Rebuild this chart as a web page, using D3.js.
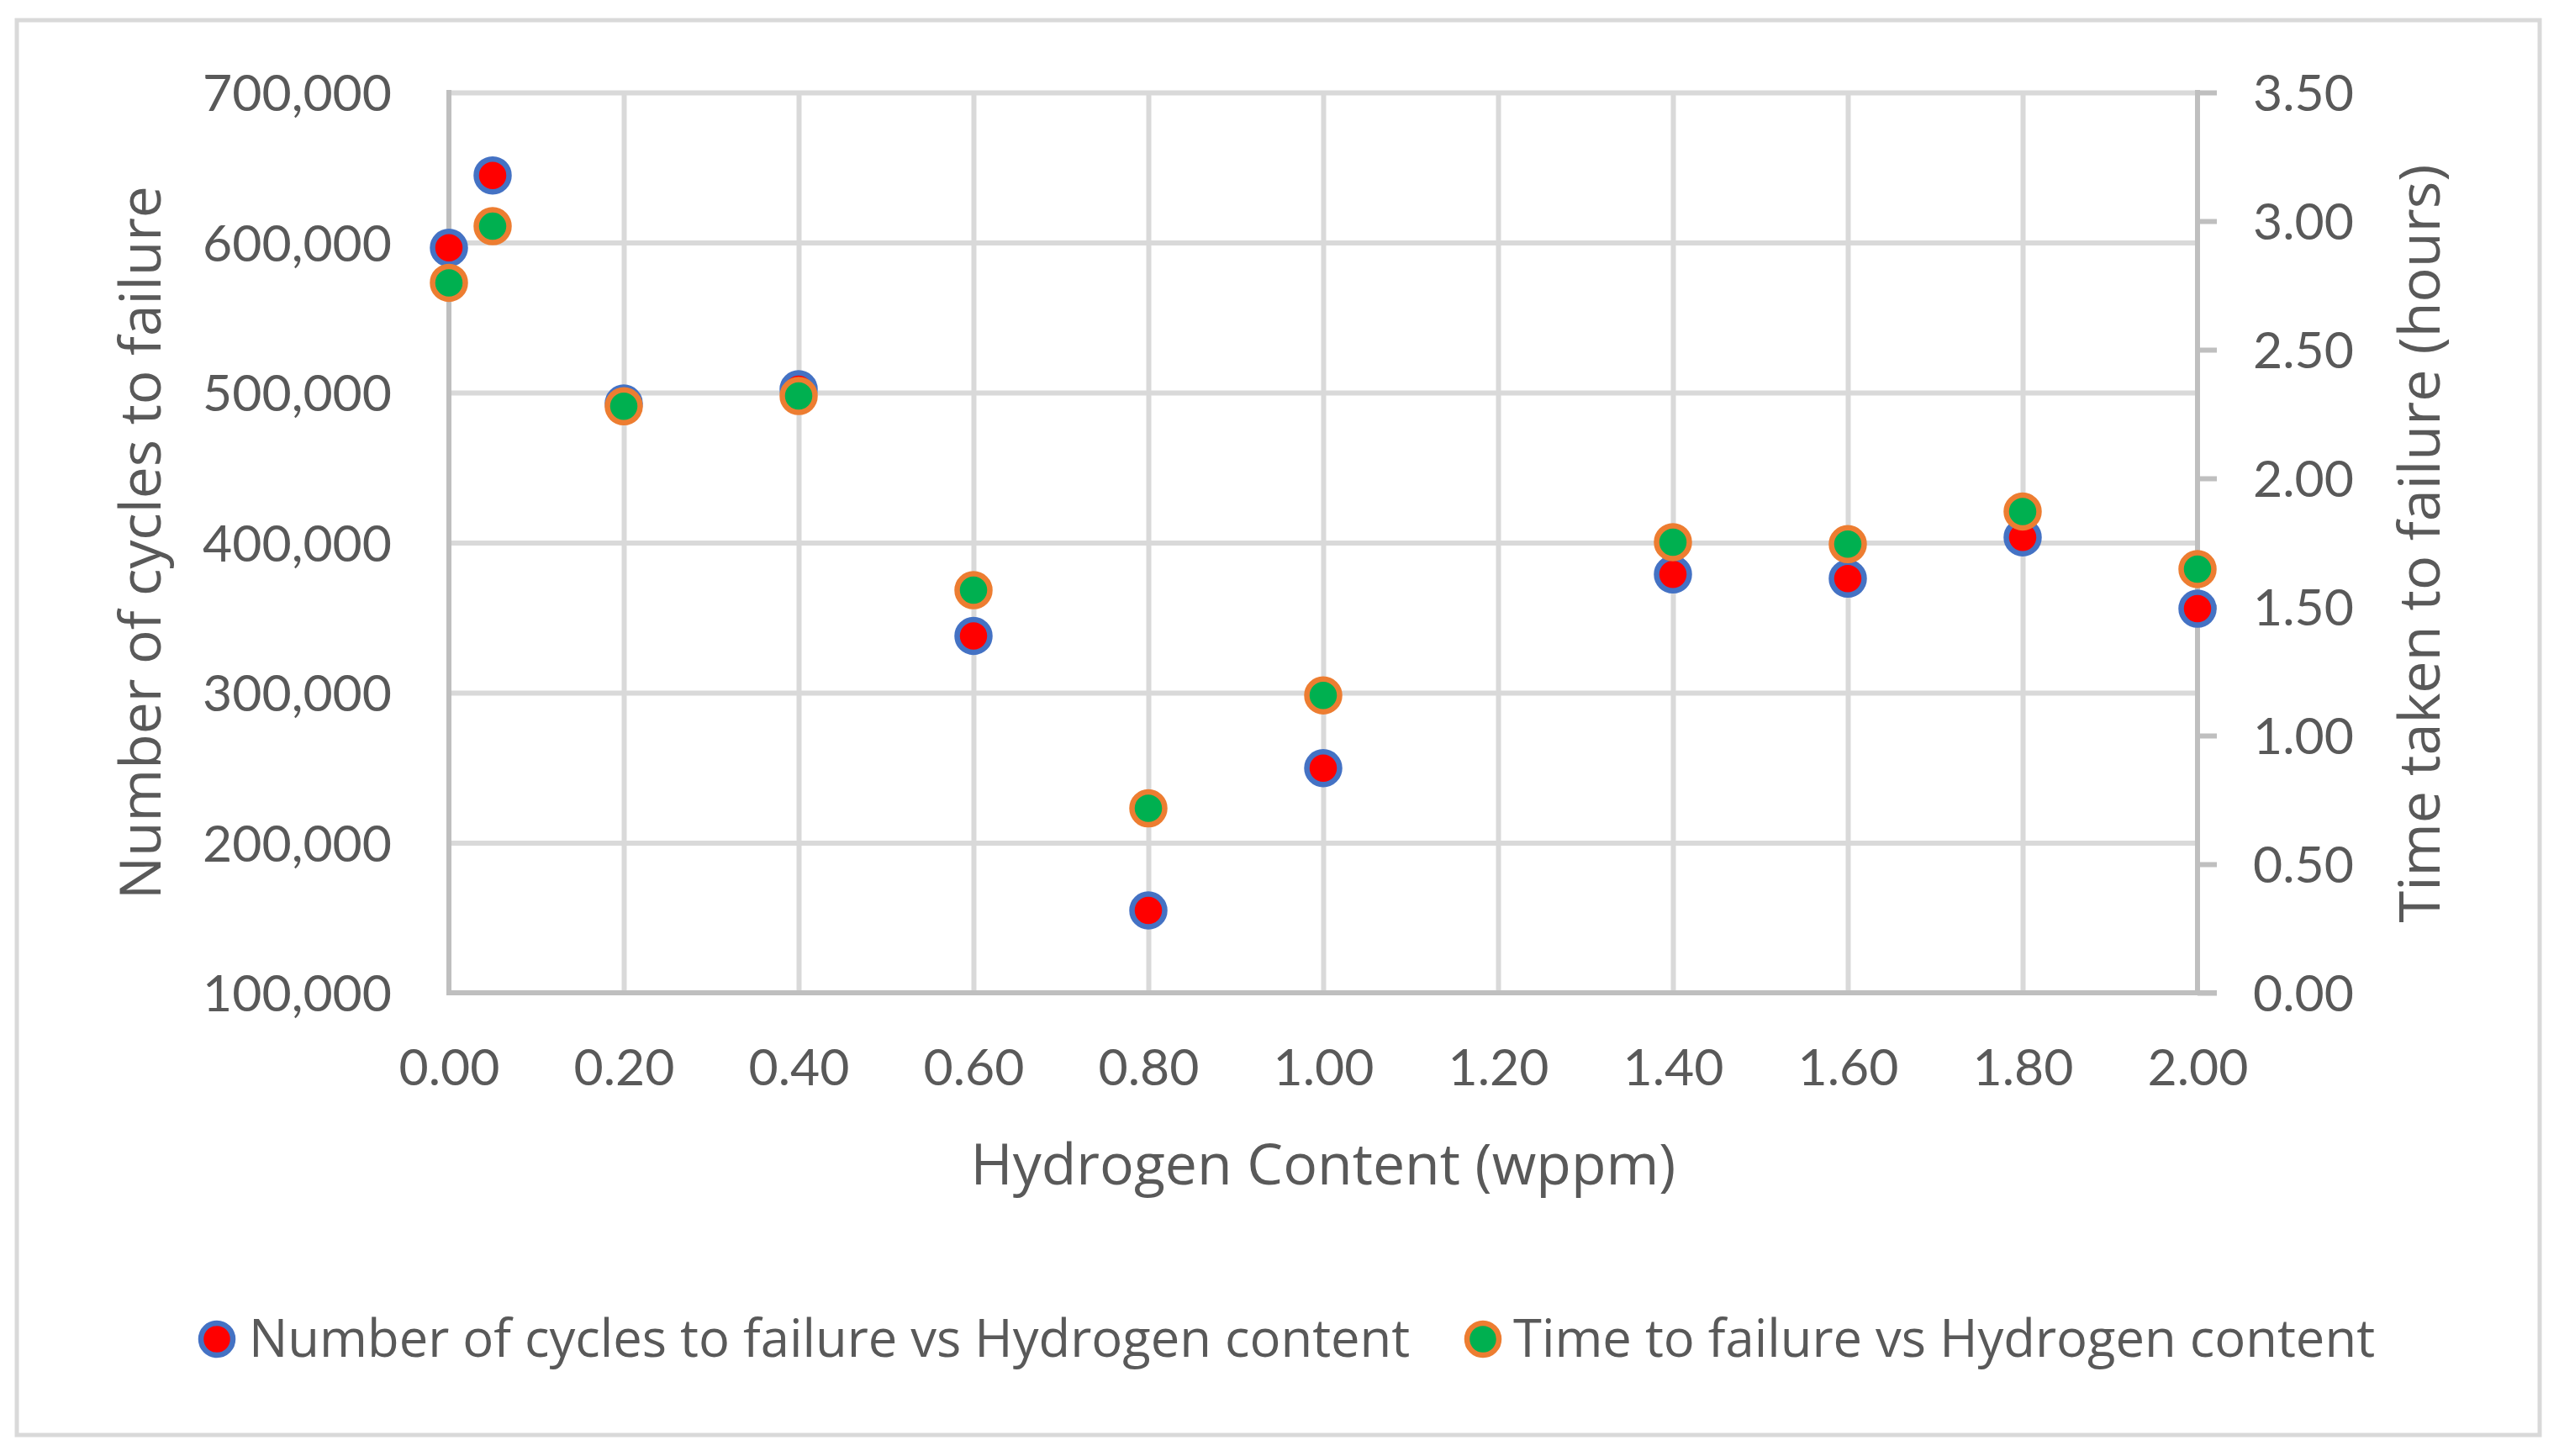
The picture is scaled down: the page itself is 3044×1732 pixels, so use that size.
<!DOCTYPE html>
<html>
<head>
<meta charset="utf-8">
<script src="https://cdn.jsdelivr.net/npm/d3@7"></script>
<style>
  html, body { margin: 0; padding: 0; background: #ffffff; }
  svg { display: block; }
</style>
</head>
<body>
<svg id="chart" width="3044" height="1732"></svg>
<script>
// ---------------- data ----------------
const hydrogen = [0.00, 0.05, 0.20, 0.40, 0.60, 0.80, 1.00, 1.40, 1.60, 1.80, 2.00];
const cycles   = [596500, 644700, 492700, 502200, 337800, 154900, 249700, 378800, 376000, 403500, 356000];
const hours    = [2.76, 2.98, 2.28, 2.32, 1.565, 0.717, 1.156, 1.752, 1.744, 1.871, 1.647];

const xTicks      = [0, 0.2, 0.4, 0.6, 0.8, 1.0, 1.2, 1.4, 1.6, 1.8, 2.0];
const yLeftTicks  = [100000, 200000, 300000, 400000, 500000, 600000, 700000];
const yRightTicks = [0, 0.5, 1.0, 1.5, 2.0, 2.5, 3.0, 3.5];

const xTitle = "Hydrogen Content (wppm)";
const yLeftTitle = "Number of cycles to failure";
const yRightTitle = "Time taken to failure (hours)";
const seriesNames = ["Number of cycles to failure vs Hydrogen content", "Time to failure vs Hydrogen content"];

// ---------------- layout ----------------
const svg = d3.select("#chart");
const L = 534, R = 2614, T = 110, B = 1181;
const gridColor = "#d9d9d9", axisColor = "#bfbfbf", textColor = "#595959";
const tickFont = "Lato, Carlito, Calibri, sans-serif";
const titleFont = "'Open Sans', 'Noto Sans', 'Segoe UI', sans-serif";

const x = d3.scaleLinear().domain([0, 2]).range([L, R]);
const yL = d3.scaleLinear().domain([100000, 700000]).range([B, T]);
const yR = d3.scaleLinear().domain([0, 3.5]).range([B, T]);

// outer border
svg.append("rect").attr("x", 20).attr("y", 24).attr("width", 3001).attr("height", 1683)
  .attr("fill", "#ffffff").attr("stroke", gridColor).attr("stroke-width", 5);

function fitSize(text, family, target, base) {
  const t = svg.append("text").attr("font-family", family).attr("font-size", base).text(text);
  const w = t.node().getComputedTextLength();
  t.remove();
  return base * target / w;
}
const tickSize = fitSize("700,000", tickFont, 225, 60);

// gridlines
const gy = svg.append("g").attr("transform", `translate(${L},0)`)
  .call(d3.axisLeft(yL).tickValues(yLeftTicks.filter(v => v > 100000)).tickSize(-(R - L)).tickFormat(""));
gy.select(".domain").remove();
gy.selectAll("line").attr("stroke", gridColor).attr("stroke-width", 6);

const gx = svg.append("g").attr("transform", `translate(0,${B})`)
  .call(d3.axisBottom(x).tickValues(xTicks.filter(v => v > 0 && v < 2)).tickSize(-(B - T)).tickFormat(""));
gx.select(".domain").remove();
gx.selectAll("line").attr("stroke", gridColor).attr("stroke-width", 6);

// axis lines
svg.append("line").attr("x1", L).attr("x2", L).attr("y1", T - 3).attr("y2", B + 3)
  .attr("stroke", axisColor).attr("stroke-width", 6);
svg.append("line").attr("x1", L - 3).attr("x2", R + 23).attr("y1", B).attr("y2", B)
  .attr("stroke", axisColor).attr("stroke-width", 6);
svg.append("line").attr("x1", R).attr("x2", R).attr("y1", T - 3).attr("y2", B + 3)
  .attr("stroke", axisColor).attr("stroke-width", 6);

// left axis labels
const aL = svg.append("g").attr("transform", `translate(${L},0)`)
  .call(d3.axisLeft(yL).tickValues(yLeftTicks).tickSize(0).tickPadding(68).tickFormat(d3.format(",")));
aL.select(".domain").remove();
aL.selectAll("text").attr("font-family", tickFont).attr("font-size", tickSize)
  .attr("fill", textColor).attr("dy", "0.36em");

// right axis with outward ticks
const aR = svg.append("g").attr("transform", `translate(${R},0)`)
  .call(d3.axisRight(yR).tickValues(yRightTicks).tickSize(23).tickPadding(43).tickFormat(d3.format(".2f")));
aR.select(".domain").remove();
aR.selectAll("line").attr("stroke", axisColor).attr("stroke-width", 6);
aR.selectAll("text").attr("font-family", tickFont).attr("font-size", tickSize)
  .attr("fill", textColor).attr("dy", "0.36em");

// bottom axis labels
const aB = svg.append("g").attr("transform", `translate(0,${B})`)
  .call(d3.axisBottom(x).tickValues(xTicks).tickSize(0).tickFormat(d3.format(".2f")));
aB.select(".domain").remove();
aB.selectAll("text").attr("font-family", tickFont).attr("font-size", tickSize)
  .attr("fill", textColor).attr("y", 110).attr("dy", 0);

// titles
const xTitleSize = fitSize(xTitle, titleFont, 839, 60);
svg.append("text").attr("x", (L + R) / 2).attr("y", 1409).attr("text-anchor", "middle")
  .attr("font-family", titleFont).attr("font-size", xTitleSize).attr("fill", textColor).text(xTitle);

const yLSize = fitSize(yLeftTitle, titleFont, 849, 60);
svg.append("text").attr("transform", `translate(191,${(T + B) / 2}) rotate(-90)`)
  .attr("text-anchor", "middle").attr("font-family", titleFont).attr("font-size", yLSize)
  .attr("fill", textColor).text(yLeftTitle);

const yRSize = fitSize(yRightTitle, titleFont, 902, 60);
svg.append("text").attr("transform", `translate(2902,${(T + B) / 2 + 1}) rotate(-90)`)
  .attr("text-anchor", "middle").attr("font-family", titleFont).attr("font-size", yRSize)
  .attr("fill", textColor).text(yRightTitle);

// markers
const pts1 = hydrogen.map((h, i) => ({ h, v: cycles[i] }));
const pts2 = hydrogen.map((h, i) => ({ h, v: hours[i] }));
const r = 19.5, sw = 6.5;

svg.append("g").selectAll("circle").data(pts1).join("circle")
  .attr("cx", d => x(d.h)).attr("cy", d => yL(d.v)).attr("r", r)
  .attr("fill", "#ff0000").attr("stroke", "#4472c4").attr("stroke-width", sw);
svg.append("g").selectAll("circle").data(pts2).join("circle")
  .attr("cx", d => x(d.h)).attr("cy", d => yR(d.v)).attr("r", r)
  .attr("fill", "#00b050").attr("stroke", "#ed7d31").attr("stroke-width", sw);

// legend
const legSize1 = fitSize(seriesNames[0], titleFont, 1379, 60);
const legSize2 = fitSize(seriesNames[1], titleFont, 1027, 60);
const legSize = (legSize1 + legSize2) / 2;
const legend = [
  { name: seriesNames[0], fill: "#ff0000", stroke: "#4472c4", cx: 258, tx: 296 },
  { name: seriesNames[1], fill: "#00b050", stroke: "#ed7d31", cx: 1764, tx: 1800 }
];
const lg = svg.append("g").selectAll("g").data(legend).join("g");
lg.append("circle").attr("cx", d => d.cx).attr("cy", 1593).attr("r", 19)
  .attr("fill", d => d.fill).attr("stroke", d => d.stroke).attr("stroke-width", 6.5);
lg.append("text").attr("x", d => d.tx).attr("y", 1614).attr("font-family", titleFont)
  .attr("font-size", legSize).attr("fill", textColor).text(d => d.name);
</script>
</body>
</html>
